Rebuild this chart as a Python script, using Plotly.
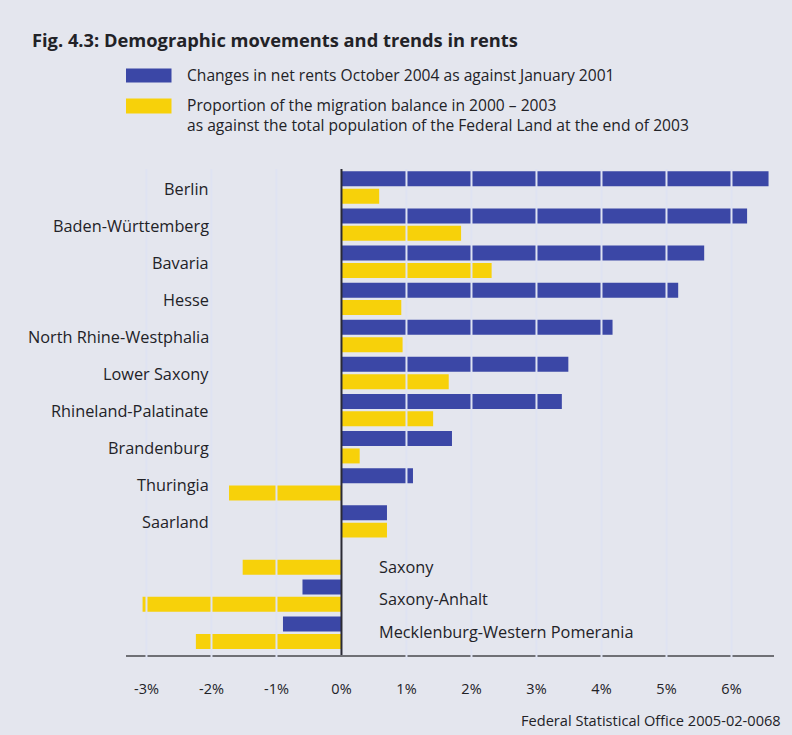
import plotly.graph_objects as go

# Federal Länder, top to bottom
regions = [
    "Berlin", "Baden-Württemberg", "Bavaria", "Hesse", "North Rhine-Westphalia",
    "Lower Saxony", "Rhineland-Palatinate", "Brandenburg", "Thuringia", "Saarland",
    "Saxony", "Saxony-Anhalt", "Mecklenburg-Western Pomerania",
]
# Changes in net rents Oct 2004 vs Jan 2001 (%)
rent_change = [6.57, 6.24, 5.58, 5.18, 4.17, 3.49, 3.39, 1.70, 1.10, 0.70, 0.0, -0.60, -0.90]
# Migration balance 2000-2003 as share of population end 2003 (%)
migration = [0.58, 1.84, 2.31, 0.92, 0.94, 1.65, 1.41, 0.28, -1.73, 0.70, -1.52, -3.06, -2.24]

tick_vals = [-3, -2, -1, 0, 1, 2, 3, 4, 5, 6]
tick_text = ["-3%", "-2%", "-1%", "0%", "1%", "2%", "3%", "4%", "5%", "6%"]

# Länder whose label sits to the right of the zero line
right_labels = {"Saxony": -8, "Saxony-Anhalt": -3, "Mecklenburg-Western Pomerania": 1}

BG = "#e4e6ee"
BLUE = "#3b47a6"
YELLOW = "#f7d10a"
TEXT = "#222227"
FONT = "Open Sans"
LABEL_FONT = dict(family=FONT, size=16.3, color=TEXT, weight=500)

fig = go.Figure()
fig.add_trace(go.Bar(y=regions, x=rent_change, orientation="h",
                     marker=dict(color=BLUE, line=dict(width=0)),
                     name="Changes in net rents October 2004 as against January 2001"))
fig.add_trace(go.Bar(y=regions, x=migration, orientation="h",
                     marker=dict(color=YELLOW, line=dict(width=0)),
                     name="Proportion of the migration balance in 2000 – 2003"))

L, R, T, B = 126, 18, 169, 80
W, H = 792, 735
plot_h = H - T - B
plot_w = W - L - R

def py(pix_y):
    """Pixel row from the top of the page -> paper y."""
    return (H - B - pix_y) / plot_h

def px(pix_x):
    """Pixel column from the left of the page -> paper x."""
    return (pix_x - L) / plot_w

fig.update_layout(
    width=W, height=H,
    margin=dict(l=L, r=R, t=T, b=B),
    paper_bgcolor=BG, plot_bgcolor=BG,
    barmode="group", bargap=0.062, bargroupgap=0.14,
    showlegend=False,
    font=dict(family=FONT, size=14, color=TEXT),
    xaxis=dict(range=[-3.315, 6.654], tickvals=tick_vals, ticktext=tick_text,
               showgrid=False, zeroline=False, showline=True, linecolor="#6f7075",
               linewidth=2, ticks="", ticklabelstandoff=20,
               tickfont=dict(family=FONT, size=14.5, color=TEXT, weight=500)),
    yaxis=dict(categoryorder="array", categoryarray=regions, range=[12.6, -0.5],
               showticklabels=False, showgrid=False, zeroline=False, showline=False,
               ticks=""),
)

# Separator lines at each whole percent, cutting through the bars and the axis line
for v in tick_vals:
    if v == 0:
        continue
    fig.add_shape(type="line", xref="x", yref="paper", x0=v, x1=v, y0=-0.01, y1=1,
                  line=dict(color="#dfe3f2", width=2), layer="above")
# Zero line
fig.add_shape(type="line", xref="x", yref="paper", x0=0, x1=0, y0=0, y1=1,
              line=dict(color="#2a2a35", width=2), layer="above")

# Land labels
for name in regions:
    if name in right_labels:
        fig.add_annotation(x=0.54, y=name, xref="x", yref="y", text=name,
                           xanchor="left", showarrow=False, yshift=right_labels[name],
                           font=LABEL_FONT)
    else:
        fig.add_annotation(x=-2.0, y=name, xref="x", yref="y", text=name,
                           xanchor="right", showarrow=False, yshift=-1,
                           font=LABEL_FONT)

# Title
fig.add_annotation(x=px(30), y=py(39), xref="paper", yref="paper", showarrow=False,
                   xanchor="left", yanchor="middle",
                   text="<b>Fig. 4.3: Demographic movements and trends in rents</b>",
                   font=dict(family=FONT, size=18.3, color=TEXT))

# Legend swatches and texts
fig.add_shape(type="rect", xref="paper", yref="paper", x0=px(126), x1=px(171.5),
              y0=py(82.5), y1=py(68.5), fillcolor=BLUE, line=dict(width=0))
fig.add_shape(type="rect", xref="paper", yref="paper", x0=px(126), x1=px(171.5),
              y0=py(113.5), y1=py(98.5), fillcolor=YELLOW, line=dict(width=0))
legend_font = dict(family=FONT, size=15.6, color=TEXT, weight=500)
fig.add_annotation(x=px(185), y=py(75), xref="paper", yref="paper", showarrow=False,
                   xanchor="left", yanchor="middle",
                   text="Changes in net rents October 2004 as against January 2001",
                   font=legend_font)
fig.add_annotation(x=px(185), y=py(115), xref="paper", yref="paper", showarrow=False,
                   xanchor="left", yanchor="middle", align="left",
                   text="Proportion of the migration balance in 2000 – 2003<br>"
                        "as against the total population of the Federal Land at the end of 2003",
                   font=legend_font)

# Source note
fig.add_annotation(x=px(783), y=py(720), xref="paper", yref="paper", showarrow=False,
                   xanchor="right", yanchor="middle",
                   text="Federal Statistical Office 2005-02-0068",
                   font=dict(family=FONT, size=14.6, color=TEXT, weight=500))

fig.write_html("out.html")
